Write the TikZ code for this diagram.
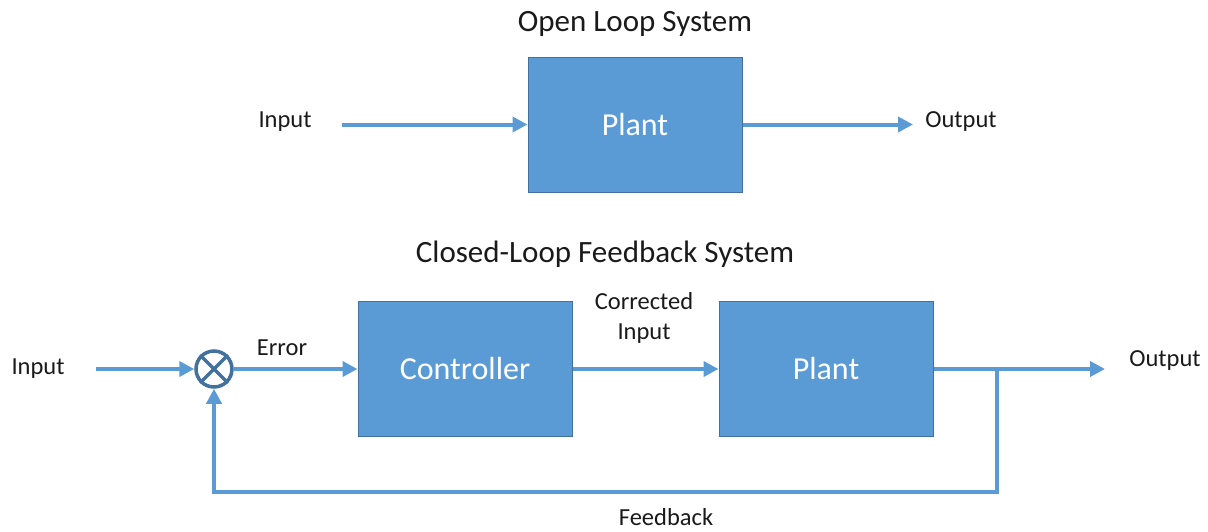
\documentclass[tikz,border=0pt]{standalone}
\usepackage{fontspec}
\setmainfont{Carlito}
\usetikzlibrary{arrows.meta,positioning}
\definecolor{boxblue}{HTML}{5B9BD5}
\definecolor{boxedge}{HTML}{41719C}
\definecolor{linkblue}{HTML}{5B9BD5}
\definecolor{txt}{HTML}{1A1A1A}
\tikzset{
  blk/.style={draw=boxedge, line width=1pt, fill=boxblue, minimum width=214pt, minimum height=135pt, inner sep=0pt, text=white, font=\fontsize{32}{36}\selectfont},
  lbl/.style={text=txt, font=\fontsize{24.5}{30}\selectfont, inner sep=0pt, align=center},
  ttl/.style={text=txt, font=\fontsize{31}{36}\selectfont, inner sep=0pt},
  link/.style={draw=linkblue, line width=4pt, -{Triangle[length=15pt,width=15pt]}},
}
\begin{document}
\begin{tikzpicture}[x=1pt,y=-1pt]
\useasboundingbox (0,0) rectangle (1208,531);
% Open loop
\node[ttl] (t1) at (635,24) {Open Loop System};
\node[blk] (p1) at (635,124.5) {Plant};
\node[lbl] (in1) at (285,122) {Input};
\node[lbl] (out1) at (961,122) {Output};
\coordinate (a1) at (342,124.5);
\coordinate (b1) at (913,124.5);
\draw[link] (a1) -- (p1.west);
\draw[link] (p1.east) -- (b1);
% Closed loop
\node[ttl] (t2) at (605,254) {Closed-Loop Feedback System};
\node[blk] (ctrl) at (465,369) {Controller};
\node[blk] (p2) at (826,369) {Plant};
\node[draw=boxedge, line width=3.5pt, fill=white, circle, minimum size=36pt, inner sep=0pt] (sum) at (214,369) {};
\draw[boxedge, line width=3.5pt] (sum.north east) -- (sum.south west) (sum.north west) -- (sum.south east);
\node[lbl] (in2) at (38,369) {Input};
\node[lbl] (err) at (282,348) {Error};
\node[lbl] (corr) at (644,318) {Corrected\\Input};
\node[lbl] (out2) at (1165,361) {Output};
\node[lbl] (fb) at (666,517) {Feedback};
\coordinate (a2) at (96,369);
\coordinate (b2) at (1105,369);
\coordinate (br) at (997,369);
\coordinate (c1) at (997,492);
\coordinate (c2) at (214,492);
\draw[link] (a2) -- (sum.west);
\draw[link] (sum.east) -- (ctrl.west);
\draw[link] (ctrl.east) -- (p2.west);
\draw[link] (p2.east) -- (b2);
\draw[link, line join=miter] (br) -- (c1) -- (c2) -- (sum.south);
\end{tikzpicture}
\end{document}
